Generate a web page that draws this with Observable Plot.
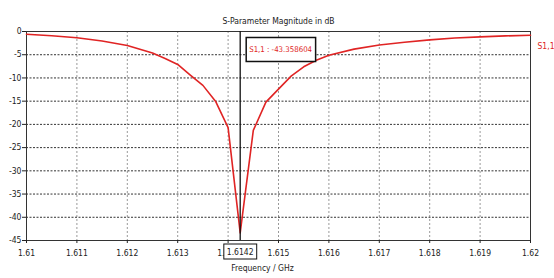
<!DOCTYPE html>
<html><head><meta charset="utf-8">
<script src="https://cdn.jsdelivr.net/npm/d3@7"></script>
<script src="https://cdn.jsdelivr.net/npm/@observablehq/plot@0.6"></script>
<style>body{margin:0;background:#fff;overflow:hidden}</style>
</head><body><div id="chart"></div>
<script>
const freqGHz = [1.61, 1.6105, 1.611, 1.6115, 1.612, 1.6125, 1.61275, 1.613, 1.61325, 1.6135, 1.61375, 1.614, 1.61424, 1.6145, 1.61475, 1.615, 1.61525, 1.6155, 1.61575, 1.616, 1.6165, 1.617, 1.6175, 1.618, 1.6185, 1.619, 1.6195, 1.62];
const s11dB = [-0.6, -0.9, -1.35, -2.05, -3.0, -4.65, -5.8, -7.1, -9.4, -11.6, -15.0, -20.7, -43.358604, -21.3, -15.2, -12.4, -9.6, -7.6, -6.2, -5.1, -3.8, -2.9, -2.3, -1.8, -1.4, -1.15, -0.95, -0.8];
const xTicks = [1.61, 1.611, 1.612, 1.613, 1.614, 1.615, 1.616, 1.617, 1.618, 1.619, 1.62];
const yTicks = [0, -5, -10, -15, -20, -25, -30, -35, -40, -45];
const markerFreq = 1.61424;
const markerLabel = "1.6142";
const markerReadout = "S1,1 : -43.358604";
const seriesName = "S1,1";
const titleText = "S-Parameter Magnitude in dB";
const xLabel = "Frequency / GHz";

const red = "#e02424";
const data = freqGHz.map((f, i) => ({f, v: s11dB[i]}));
const marker = [{f: markerFreq, v: 0}];

const plot = Plot.plot({
  width: 554, height: 278,
  marginLeft: 26, marginRight: 24, marginTop: 31, marginBottom: 38,
  style: {fontFamily: "'DejaVu Sans Condensed', 'Liberation Sans', sans-serif", fontSize: "8.5px", background: "#fff", color: "#222"},
  x: {domain: [1.61, 1.62], label: null},
  y: {domain: [-45, 0], label: null},
  marks: [
    Plot.gridX(xTicks.slice(1, -1), {stroke: "#999", strokeOpacity: 1, strokeDasharray: "2,2"}),
    Plot.gridY(yTicks.slice(1, -1), {stroke: "#333", strokeOpacity: 1, strokeDasharray: "2,1.5"}),
    Plot.frame({stroke: "#333"}),
    Plot.axisY(yTicks, {tickSize: 4, tickPadding: 1, label: null, tickFormat: d => String(d)}),
    Plot.axisX(xTicks, {tickSize: 3, tickPadding: 6, label: null, tickFormat: d => String(d)}),
    Plot.lineY(data, {x: "f", y: "v", stroke: red, strokeWidth: 1.6}),
    Plot.ruleX(marker, {x: "f", stroke: "#111", strokeWidth: 1.3}),
    Plot.text([titleText], {frameAnchor: "top", dy: -14, fill: "#222"}),
    Plot.text([xLabel], {frameAnchor: "bottom", dx: -16, dy: 30, fill: "#222"}),
    Plot.text([seriesName], {frameAnchor: "top-right", dx: 7, dy: 11, textAnchor: "start", fill: red}),
    Plot.text(marker, {x: "f", y: "v", dx: 9, dy: 18, textAnchor: "start", fill: red, fontSize: 7.8, text: () => markerReadout}),
    Plot.text(marker, {x: "f", frameAnchor: "bottom", dy: 14, fill: "#222", text: () => markerLabel})
  ]
});
document.getElementById("chart").appendChild(plot);

function boxify(content, padX, padY, sw) {
  plot.querySelectorAll("text").forEach(t => {
    if (t.textContent !== content) return;
    const b = t.getBBox();
    const r = document.createElementNS("http://www.w3.org/2000/svg", "rect");
    r.setAttribute("x", b.x - padX);
    r.setAttribute("y", b.y - padY);
    r.setAttribute("width", b.width + 2 * padX);
    r.setAttribute("height", b.height + 2 * padY);
    r.setAttribute("fill", "#fff");
    r.setAttribute("stroke", "#111");
    r.setAttribute("stroke-width", sw);
    const tr = t.getAttribute("transform");
    if (tr) r.setAttribute("transform", tr);
    t.parentNode.insertBefore(r, t);
  });
}
boxify(markerReadout, 3, 7.5, 1.5);
boxify(markerLabel, 3, 2.5, 1);
</script>
</body></html>
